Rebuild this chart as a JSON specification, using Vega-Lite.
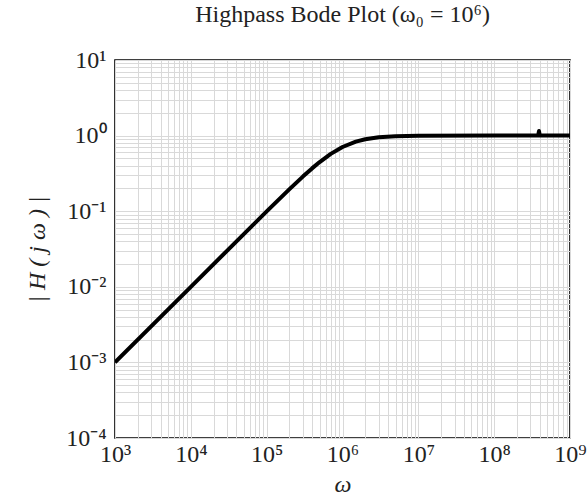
{
  "$schema": "https://vega.github.io/schema/vega-lite/v6.json",
  "autosize": "none",
  "width": 455,
  "height": 378,
  "padding": {"left": 115, "top": 60, "right": 17, "bottom": 60},
  "background": "white",
  "config": {
    "view": {"stroke": "black", "strokeWidth": 1.6},
    "font": "Liberation Serif"
  },
  "title": {
    "text": "Highpass Bode Plot (ω₀ = 10⁶)",
    "font": "Liberation Serif",
    "fontSize": 24,
    "fontWeight": "normal",
    "color": "#222",
    "anchor": "middle",
    "offset": 21
  },
  "data": {
    "values": [
      {"w": 1000, "h": 0.001},
      {"w": 10000, "h": 0.01},
      {"w": 100000, "h": 0.0995},
      {"w": 200000, "h": 0.196},
      {"w": 300000, "h": 0.287},
      {"w": 400000, "h": 0.371},
      {"w": 500000, "h": 0.447},
      {"w": 700000, "h": 0.573},
      {"w": 1000000, "h": 0.707},
      {"w": 1500000, "h": 0.832},
      {"w": 2000000, "h": 0.894},
      {"w": 3000000, "h": 0.949},
      {"w": 5000000, "h": 0.981},
      {"w": 10000000, "h": 0.995},
      {"w": 100000000, "h": 1.0},
      {"w": 380000000, "h": 1.0},
      {"w": 390000000, "h": 1.15},
      {"w": 400000000, "h": 1.0},
      {"w": 1000000000, "h": 1.0}
    ]
  },
  "mark": {"type": "line", "color": "black", "strokeWidth": 4, "clip": true, "strokeJoin": "round"},
  "encoding": {
    "x": {
      "field": "w",
      "type": "quantitative",
      "scale": {"type": "log", "domain": [1000, 1000000000], "nice": false},
      "axis": {
        "title": "ω",
        "titleFont": "Liberation Serif",
        "titleFontStyle": "italic",
        "titleFontWeight": "normal",
        "titleFontSize": 24,
        "titleColor": "#222",
        "titlePadding": 6,
        "values": [1000,2000,3000,4000,5000,6000,7000,8000,9000,10000,20000,30000,40000,50000,60000,70000,80000,90000,100000,200000,300000,400000,500000,600000,700000,800000,900000,1000000,2000000,3000000,4000000,5000000,6000000,7000000,8000000,9000000,10000000,20000000,30000000,40000000,50000000,60000000,70000000,80000000,90000000,100000000,200000000,300000000,400000000,500000000,600000000,700000000,800000000,900000000,1000000000],
        "labelExpr": "abs(log(datum.value)/LN10 - round(log(datum.value)/LN10)) < 0.001 ? '10' + ['⁻⁴','⁻³','⁻²','⁻¹','⁰','¹','²','³','⁴','⁵','⁶','⁷','⁸','⁹'][round(log(datum.value)/LN10)+4] : ''",
        "labelFont": "Liberation Serif",
        "labelFontSize": 24,
        "labelColor": "#222",
        "labelOverlap": false,
        "labelFlush": false,
        "labelPadding": 4,
        "ticks": false,
        "domain": false,
        "grid": true,
        "gridColor": "#d9d9d9",
        "gridWidth": 1
      }
    },
    "y": {
      "field": "h",
      "type": "quantitative",
      "scale": {"type": "log", "domain": [0.0001, 10], "nice": false},
      "axis": {
        "title": "| H ( j ω ) |",
        "titleFont": "Liberation Serif",
        "titleFontStyle": "italic",
        "titleFontWeight": "normal",
        "titleFontSize": 24,
        "titleColor": "#222",
        "titlePadding": 16,
        "values": [0.0001,0.0002,0.0003,0.0004,0.0005,0.0006,0.0007,0.0008,0.0009,0.001,0.002,0.003,0.004,0.005,0.006,0.007,0.008,0.009,0.01,0.02,0.03,0.04,0.05,0.06,0.07,0.08,0.09,0.1,0.2,0.3,0.4,0.5,0.6,0.7,0.8,0.9,1,2,3,4,5,6,7,8,9,10],
        "labelExpr": "abs(log(datum.value)/LN10 - round(log(datum.value)/LN10)) < 0.001 ? '10' + ['⁻⁴','⁻³','⁻²','⁻¹','⁰','¹','²','³','⁴','⁵','⁶','⁷','⁸','⁹'][round(log(datum.value)/LN10)+4] : ''",
        "labelFont": "Liberation Serif",
        "labelFontSize": 24,
        "labelColor": "#222",
        "labelOverlap": false,
        "labelFlush": false,
        "labelPadding": 9,
        "ticks": false,
        "domain": false,
        "grid": true,
        "gridColor": "#d9d9d9",
        "gridWidth": 1
      }
    }
  }
}
